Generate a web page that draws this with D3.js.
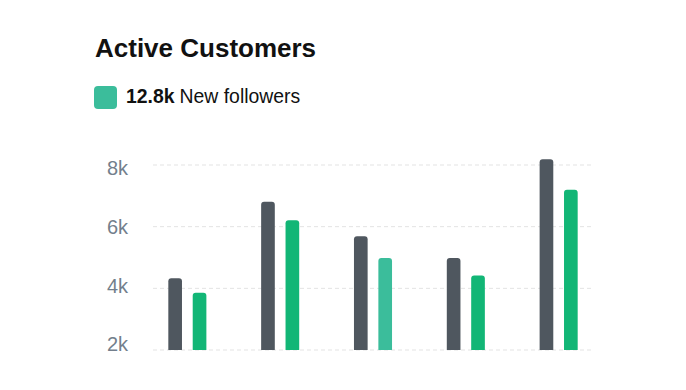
<!DOCTYPE html>
<html>
<head>
<meta charset="utf-8">
<script src="https://cdn.jsdelivr.net/npm/d3@7"></script>
<style>
  body { margin: 0; background: #fff; }
  svg { font-family: "Liberation Sans", Arial, Helvetica, sans-serif; }
</style>
</head>
<body>
<div id="chart"></div>
<script>
var categories = ["Mon", "Tue", "Wed", "Thu", "Fri"];
var customers = [4330, 6810, 5690, 4980, 8190];
var followers = [3860, 6210, 4980, 4420, 7200];
var yTicks = [2000, 4000, 6000, 8000];
var legendValue = "12.8k";
var legendLabel = "New followers";
var highlightIndex = 2; // the hovered bar is drawn in the lighter teal

var width = 686, height = 390;
var colors = { dark: "#4f575f", green: "#12b676", light: "#3bbd9b" };

var svg = d3.select("#chart").append("svg")
    .attr("width", width)
    .attr("height", height);

svg.append("text")
    .attr("x", 95)
    .attr("y", 57)
    .attr("font-size", 26)
    .attr("font-weight", "bold")
    .attr("fill", "#111")
    .text("Active Customers");

// legend
svg.append("rect")
    .attr("x", 94).attr("y", 86)
    .attr("width", 23).attr("height", 23)
    .attr("rx", 4)
    .attr("fill", colors.light);

var leg = svg.append("text")
    .attr("x", 126)
    .attr("y", 103)
    .attr("font-size", 19.4)
    .attr("fill", "#111");
leg.append("tspan").attr("font-weight", "bold").text(legendValue);
leg.append("tspan").attr("dx", 5).text(legendLabel);

var x0 = d3.scaleBand()
    .domain(categories)
    .range([153, 593])
    .paddingInner(0.59)
    .paddingOuter(0.165);

var x1 = d3.scaleBand()
    .domain(["customers", "followers"])
    .range([0, x0.bandwidth()])
    .paddingInner(0.44);

var y = d3.scaleLinear()
    .domain([2000, 8000])
    .range([350, 165]);

// the library labels sit a bit off the grid lines
var yLabel = d3.scaleLinear()
    .domain([2000, 8000])
    .range([344, 168]);

svg.append("g")
    .selectAll("line")
    .data(yTicks)
    .join("line")
    .attr("x1", 153).attr("x2", 593)
    .attr("y1", d => y(d)).attr("y2", d => y(d))
    .attr("stroke", "#e3e3e3")
    .attr("stroke-dasharray", "4 3");

svg.append("g")
    .selectAll("text")
    .data(yTicks)
    .join("text")
    .attr("x", 107)
    .attr("y", d => yLabel(d))
    .attr("dy", "0.36em")
    .attr("font-size", 20)
    .attr("fill", "#737f8c")
    .text(d => d3.format("~s")(d));

function topRounded(x, yTop, w, yBottom, r) {
  return "M" + x + "," + yBottom +
    "V" + (yTop + r) +
    "Q" + x + "," + yTop + " " + (x + r) + "," + yTop +
    "H" + (x + w - r) +
    "Q" + (x + w) + "," + yTop + " " + (x + w) + "," + (yTop + r) +
    "V" + yBottom + "Z";
}

var rows = categories.map(function(c, i) {
  return [
    { cat: c, key: "customers", value: customers[i], color: colors.dark },
    { cat: c, key: "followers", value: followers[i], color: i === highlightIndex ? colors.light : colors.green }
  ];
}).flat();

svg.append("g")
    .selectAll("path")
    .data(rows)
    .join("path")
    .attr("d", d => topRounded(x0(d.cat) + x1(d.key), y(d.value), x1.bandwidth(), y(2000), 3))
    .attr("fill", d => d.color);
</script>
</body>
</html>
